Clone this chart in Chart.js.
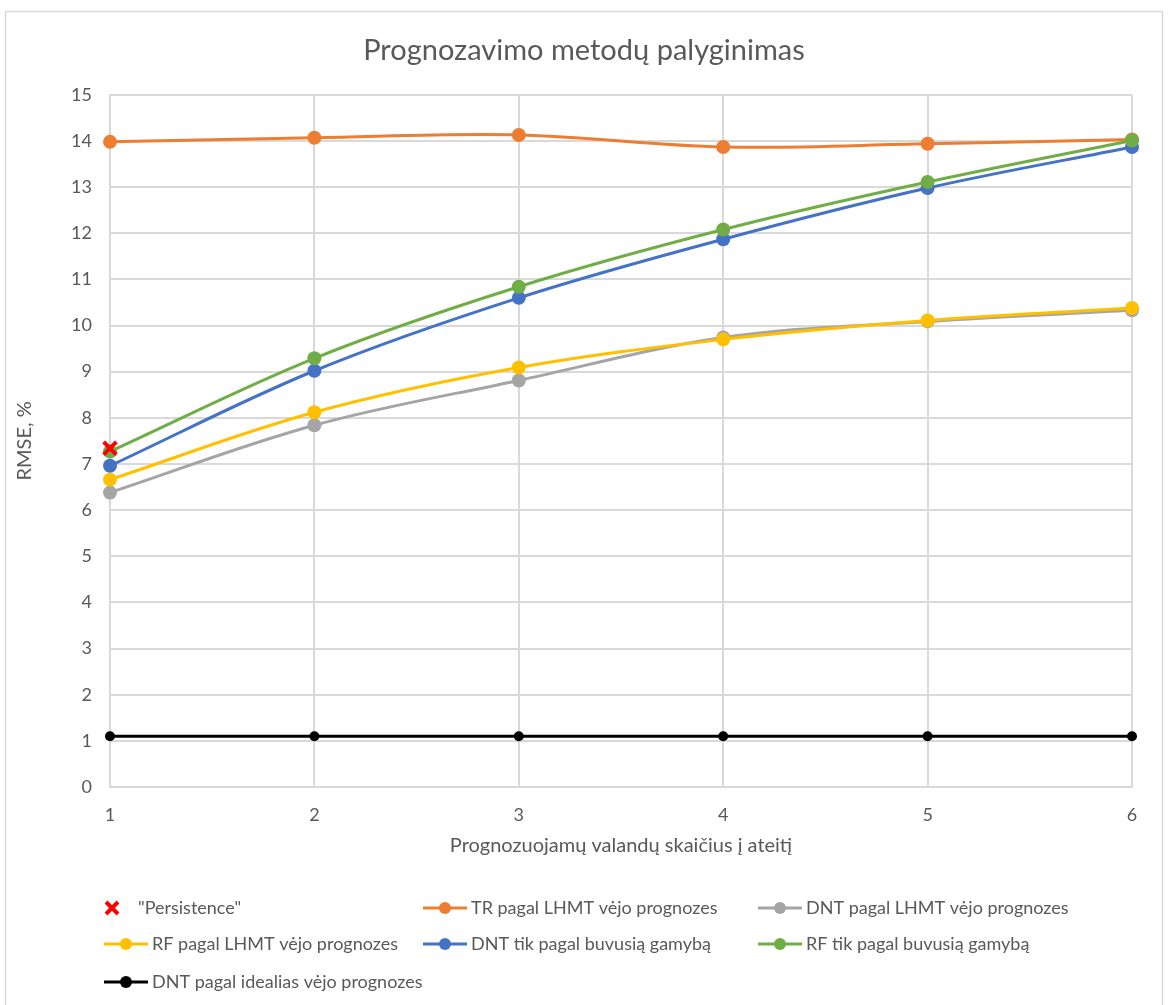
<!DOCTYPE html>
<html>
<head>
<meta charset="utf-8">
<script src="https://cdn.jsdelivr.net/npm/chart.js@4.4.1/dist/chart.umd.min.js"></script>
<style>
  html, body { margin: 0; padding: 0; background: #fff; }
  #wrap { width: 1168px; height: 1005px; }
</style>
</head>
<body>
<div id="wrap"><canvas id="myChart" width="1168" height="1005"></canvas></div>
<script>
// hours ahead
var hours = ['1', '2', '3', '4', '5', '6'];

// RMSE, % by method
var persistence = [7.34, null, null, null, null, null];
var trLhmt = [13.98, 14.07, 14.13, 13.87, 13.94, 14.03];
var dntLhmt = [6.38, 7.84, 8.81, 9.74, 10.09, 10.33];
var rfLhmt = [6.66, 8.12, 9.09, 9.70, 10.11, 10.38];
var dntPast = [6.96, 9.02, 10.60, 11.87, 12.98, 13.87];
var rfPast = [7.27, 9.29, 10.84, 12.08, 13.11, 14.01];
var dntIdeal = [1.1, 1.1, 1.1, 1.1, 1.1, 1.1];

var labels = [
  '"Persistence"',
  'TR pagal LHMT vėjo prognozes',
  'DNT pagal LHMT vėjo prognozes',
  'RF pagal LHMT vėjo prognozes',
  'DNT tik pagal buvusią gamybą',
  'RF tik pagal buvusią gamybą',
  'DNT pagal idealias vėjo prognozes'
];
var colors = ['#ff0000', '#ed7d31', '#a5a5a5', '#ffc000', '#4472c4', '#70ad47', '#000000'];

var FONT = 'Lato';
var GREY = '#595959';

function line(i, data, extra) {
  var ds = {
    label: labels[i],
    data: data,
    borderColor: colors[i],
    backgroundColor: colors[i],
    borderWidth: 3,
    pointRadius: 7,
    pointHoverRadius: 7,
    pointBorderWidth: 0,
    tension: 0.35
  };
  return Object.assign(ds, extra || {});
}

// white frame round the chart
var frame = {
  id: 'frame',
  beforeDraw: function(chart) {
    var ctx = chart.ctx;
    ctx.save();
    ctx.fillStyle = '#fff';
    ctx.fillRect(0, 0, chart.width, chart.height);
    ctx.strokeStyle = '#d9d9d9';
    ctx.lineWidth = 1.5;
    ctx.strokeRect(5.5, 11.5, 1157, 1010);
    ctx.restore();
  }
};

// legend laid out in three columns, as in the original
var gridLegend = {
  id: 'gridLegend',
  afterDraw: function(chart) {
    var ctx = chart.ctx;
    var cols = [104, 423, 758];
    var rows = [908, 944, 982];
    ctx.save();
    ctx.font = '18px ' + FONT;
    ctx.textBaseline = 'middle';
    chart.data.datasets.forEach(function(ds, i) {
      var x = cols[i % 3];
      var y = rows[Math.floor(i / 3)];
      ctx.fillStyle = GREY;
      if (i === 0) {
        // marker only
        var cx = 112, r = 6;
        ctx.strokeStyle = ds.borderColor;
        ctx.lineWidth = 4;
        ctx.beginPath();
        ctx.moveTo(cx - r, y - r); ctx.lineTo(cx + r, y + r);
        ctx.moveTo(cx + r, y - r); ctx.lineTo(cx - r, y + r);
        ctx.stroke();
        ctx.fillStyle = GREY;
        ctx.fillText(ds.label, 138, y);
        return;
      }
      ctx.strokeStyle = ds.borderColor;
      ctx.lineWidth = 3;
      ctx.beginPath();
      ctx.moveTo(x, y); ctx.lineTo(x + 44, y);
      ctx.stroke();
      ctx.fillStyle = ds.borderColor;
      ctx.beginPath();
      ctx.arc(x + 22, y, 6, 0, Math.PI * 2);
      ctx.fill();
      ctx.fillStyle = GREY;
      ctx.fillText(ds.label, x + 48, y);
    });
    ctx.restore();
  }
};

new Chart(document.getElementById('myChart'), {
  type: 'line',
  data: {
    labels: hours,
    datasets: [
      {
        label: labels[0],
        data: persistence,
        borderColor: colors[0],
        backgroundColor: colors[0],
        showLine: false,
        pointStyle: 'crossRot',
        pointRadius: 9,
        pointHoverRadius: 9,
        pointBorderWidth: 4,
        order: 0
      },
      line(1, trLhmt, { order: 10 }),
      line(2, dntLhmt, { order: 6 }),
      line(3, rfLhmt, { order: 5 }),
      line(4, dntPast, { order: 4 }),
      line(5, rfPast, { order: 3 }),
      line(6, dntIdeal, { pointRadius: 5, pointHoverRadius: 5, tension: 0, order: 2 })
    ]
  },
  options: {
    responsive: false,
    animation: false,
    // equal side padding so the title sits in the middle of the canvas
    layout: { padding: { left: 36, right: 36, top: 11, bottom: 143 } },
    plugins: {
      legend: { display: false },
      tooltip: { enabled: false },
      title: {
        display: true,
        text: 'Prognozavimo metodų palyginimas',
        color: GREY,
        font: { family: FONT, size: 29, weight: 'normal' },
        padding: { top: 22, bottom: 27 }
      }
    },
    scales: {
      x: {
        offset: false,
        grid: { color: '#d9d9d9', lineWidth: 2, drawTicks: false },
        border: { color: '#d9d9d9', width: 2 },
        ticks: { color: GREY, font: { family: FONT, size: 18 }, padding: 17 },
        title: {
          display: true,
          text: 'Prognozuojamų valandų skaičius į ateitį',
          color: GREY,
          font: { family: FONT, size: 20 },
          padding: { top: 8 }
        },
        afterFit: function(scale) { scale.height = 75; }
      },
      y: {
        min: 0,
        max: 15,
        ticks: { stepSize: 1, color: GREY, font: { family: FONT, size: 18 }, padding: 18 },
        grid: { color: '#d9d9d9', lineWidth: 2, drawTicks: false },
        border: { color: '#d9d9d9', width: 2 },
        title: {
          display: true,
          text: 'RMSE, %',
          color: GREY,
          font: { family: FONT, size: 20 },
          padding: { top: -23, bottom: 4 }
        },
        afterFit: function(scale) { scale.width = 74; }
      }
    }
  },
  plugins: [frame, gridLegend]
});
</script>
</body>
</html>
